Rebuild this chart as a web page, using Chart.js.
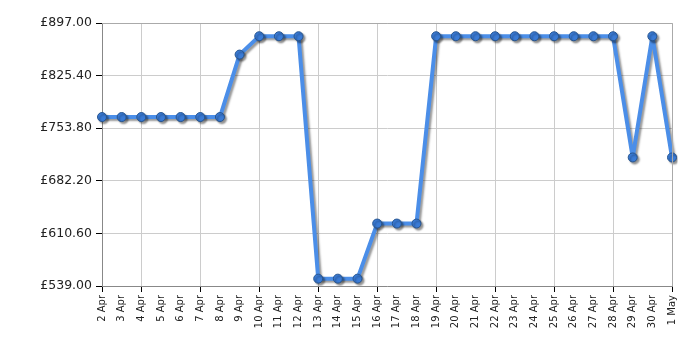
<!DOCTYPE html>
<html>
<head>
<meta charset="utf-8">
<script src="https://cdn.jsdelivr.net/npm/chart.js@4"></script>
<style>
html,body{margin:0;padding:0;background:#fff;}
#wrap{width:700px;height:350px;position:relative;}
</style>
</head>
<body>
<div id="wrap"><canvas id="c" width="700" height="350"></canvas></div>
<script>
const categories = ["2 Apr","3 Apr","4 Apr","5 Apr","6 Apr","7 Apr","8 Apr","9 Apr","10 Apr","11 Apr","12 Apr","13 Apr","14 Apr","15 Apr","16 Apr","17 Apr","18 Apr","19 Apr","20 Apr","21 Apr","22 Apr","23 Apr","24 Apr","25 Apr","26 Apr","27 Apr","28 Apr","29 Apr","30 Apr","1 May"];
const prices = [769,769,769,769,769,769,769,854,879,879,879,549,549,549,624,624,624,879,879,879,879,879,879,879,879,879,879,714,879,714];
const yTicks = [539.00,610.60,682.20,753.80,825.40,897.00];

const shadowPlugin = {
  id: 'shadow',
  beforeDatasetsDraw(chart){
    const ctx = chart.ctx;
    ctx.save();
    ctx.shadowColor = 'rgba(0,0,0,0.4)';
    ctx.shadowBlur = 2;
    ctx.shadowOffsetX = 2;
    ctx.shadowOffsetY = 2;
  },
  afterDatasetsDraw(chart){
    chart.ctx.restore();
  }
};

const isMajor = i => i === 0 || (i - 2) % 3 === 0;

new Chart(document.getElementById('c'), {
  type: 'line',
  data: {
    labels: categories,
    datasets: [{
      data: prices,
      borderColor: '#4b8ee8',
      borderWidth: 4,
      borderJoinStyle: 'round',
      borderCapStyle: 'round',
      pointRadius: 4.5,
      pointBackgroundColor: '#3a7bd6',
      pointBorderColor: '#27558f',
      pointBorderWidth: 1,
      tension: 0,
      fill: false
    }]
  },
  options: {
    responsive: false,
    animation: false,
    devicePixelRatio: 1,
    layout: { padding: { top: 23, right: 28, left: 0, bottom: 0 } },
    plugins: { legend: { display: false }, tooltip: { enabled: false } },
    scales: {
      x: {
        offset: false,
        border: { display: true, color: '#888', width: 1 },
        grid: {
          color: ctx => (ctx.index > 0 && isMajor(ctx.index)) ? '#cccccc' : 'rgba(0,0,0,0)',
          tickColor: ctx => isMajor(ctx.index) ? '#000' : 'rgba(0,0,0,0)',
          tickLength: 6,
          drawTicks: true
        },
        ticks: {
          autoSkip: false,
          maxRotation: 90,
          minRotation: 90,
          color: '#222',
          padding: 3,
          font: { family: 'DejaVu Sans', size: 10 }
        },
        afterFit: s => { s.height = 64; }
      },
      y: {
        min: 539,
        max: 897,
        border: { display: true, color: '#888', width: 1 },
        grid: { color: '#cccccc', tickColor: '#000', tickLength: 6 },
        afterBuildTicks: s => { s.ticks = yTicks.map(v => ({ value: v })); },
        ticks: {
          color: '#222',
          padding: 4,
          font: { family: 'DejaVu Sans', size: 12.5 },
          callback: v => '£' + Number(v).toFixed(2)
        },
        afterFit: s => { s.width = 102; }
      }
    }
  },
  plugins: [shadowPlugin, {
    id: 'frame',
    afterDraw(chart){
      const {ctx, chartArea:a} = chart;
      ctx.save();
      ctx.strokeStyle = '#aaaaaa';
      ctx.lineWidth = 1;
      ctx.beginPath();
      ctx.moveTo(a.left, a.top + 0.5); ctx.lineTo(a.right + 0.5, a.top + 0.5);
      ctx.lineTo(a.right + 0.5, a.bottom);
      ctx.stroke();
      ctx.restore();
    }
  }]
});
</script>
</body>
</html>
